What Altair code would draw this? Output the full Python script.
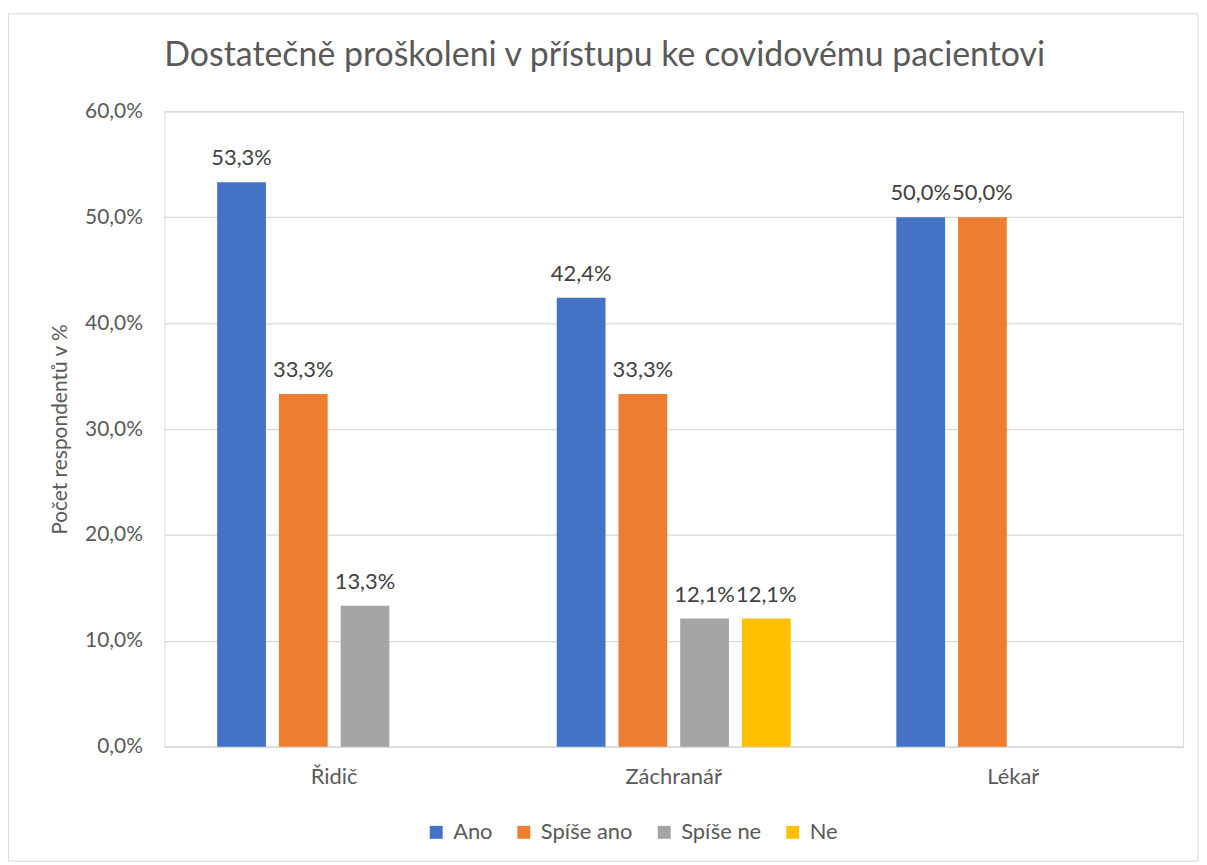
import altair as alt
import pandas as pd

categories = ["Řidič", "Záchranář", "Lékař"]
series = ["Ano", "Spíše ano", "Spíše ne", "Ne"]
colors = ["#4472C4", "#ED7D31", "#A5A5A5", "#FFC000"]
ano = [53.3, 42.4, 50.0]
spise_ano = [33.3, 33.3, 50.0]
spise_ne = [13.3, 12.1, 0.0]
ne = [0.0, 12.1, 0.0]
y_ticks = [0, 10, 20, 30, 40, 50, 60]

rows = []
for s, vals in zip(series, [ano, spise_ano, spise_ne, ne]):
    for c, v in zip(categories, vals):
        rows.append({"kategorie": c, "odpoved": s, "hodnota": v})
df = pd.DataFrame(rows)

W, H = 1023, 638
FONT = "Lato"
TXT = "#595959"

x = alt.X(
    "kategorie:N",
    sort=categories,
    title=None,
    scale=alt.Scale(paddingInner=0.273, paddingOuter=0.1365),
    axis=alt.Axis(
        labelAngle=0, labelFontSize=22, labelColor=TXT, labelFont=FONT,
        labelPadding=20, domainColor="#D9D9D9", domainWidth=1.5,
        ticks=False, grid=False,
    ),
)
xo = alt.XOffset(
    "odpoved:N",
    sort=series,
    scale=alt.Scale(domain=series, paddingInner=0.21, paddingOuter=0.105),
)
y = alt.Y(
    "hodnota:Q",
    scale=alt.Scale(domain=[0, 60]),
    axis=alt.Axis(
        values=y_ticks,
        labelExpr="replace(format(datum.value, '.1f'), '.', ',') + '%'",
        title="Počet respondentů v %",
        titleFontSize=21, titleFont=FONT, titleColor=TXT, titleFontWeight="normal",
        titlePadding=14,
        labelFontSize=21, labelFont=FONT, labelColor=TXT, labelPadding=22,
        domain=False, ticks=False, gridColor="#D9D9D9", gridWidth=1.3,
    ),
)
color = alt.Color(
    "odpoved:N",
    sort=series,
    scale=alt.Scale(domain=series, range=colors),
    legend=alt.Legend(
        title=None, orient="none", direction="horizontal",
        legendX=262, legendY=713,
        symbolType="square", symbolSize=169, symbolStrokeWidth=0,
        labelFontSize=22, labelFont=FONT, labelColor=TXT,
        columnPadding=20, labelOffset=6,
    ),
)

base = alt.Chart(df).transform_filter("datum.hodnota > 0")

bars = base.mark_bar().encode(x=x, xOffset=xo, y=y, color=color)

labels = base.transform_calculate(
    label="replace(format(datum.hodnota, '.1f'), '.', ',') + '%'"
).mark_text(
    baseline="alphabetic", dy=-17, fontSize=22, font=FONT, color="#404040"
).encode(x=x, xOffset=xo, y=y, text="label:N")

frame = alt.Chart(pd.DataFrame({"f": [0]})).mark_rect(
    filled=False, stroke="#D9D9D9", strokeWidth=1
).encode(
    x=alt.value(-156.5), x2=alt.value(1038), y=alt.value(-98), y2=alt.value(753)
)

chart = alt.layer(bars, labels, frame).properties(
    width=W,
    height=H,
    padding={"left": 0, "top": 3, "right": 0, "bottom": 0},
    title=alt.TitleParams(
        "Dostatečně proškoleni v přístupu ke covidovému pacientovi",
        fontSize=34, font=FONT, color=TXT, fontWeight="normal",
        anchor="start", frame="group", offset=-60,
    ),
).configure_view(stroke=None).configure(background="white")

chart.save("out.html", embed_options={"renderer": "svg", "actions": False})
